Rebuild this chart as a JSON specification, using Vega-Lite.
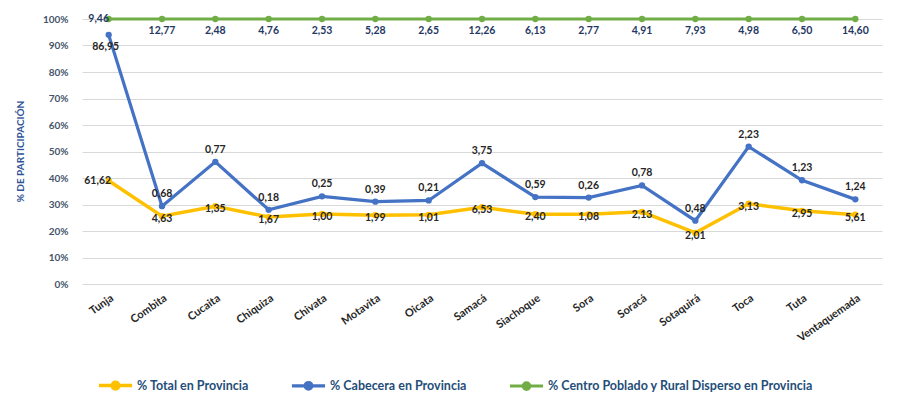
{
  "$schema": "https://vega.github.io/schema/vega-lite/v6.json",
  "width": 800,
  "height": 265,
  "autosize": {"type": "none"},
  "padding": {"left": 82, "top": 19, "right": 30, "bottom": 117},
  "background": "white",
  "config": {
    "locale": {"number": {"decimal": ",", "thousands": ".", "grouping": [3], "currency": ["$", ""]}},
    "view": {"stroke": null},
    "font": "Lato"
  },
  "data": {
    "values": [
      {"city": "Tunja", "series": "% Total en Provincia", "value": 61.62},
      {"city": "Tunja", "series": "% Cabecera en Provincia", "value": 86.95},
      {"city": "Tunja", "series": "% Centro Poblado y Rural Disperso en Provincia", "value": 9.46},
      {"city": "Combita", "series": "% Total en Provincia", "value": 4.63},
      {"city": "Combita", "series": "% Cabecera en Provincia", "value": 0.68},
      {"city": "Combita", "series": "% Centro Poblado y Rural Disperso en Provincia", "value": 12.77},
      {"city": "Cucaita", "series": "% Total en Provincia", "value": 1.35},
      {"city": "Cucaita", "series": "% Cabecera en Provincia", "value": 0.77},
      {"city": "Cucaita", "series": "% Centro Poblado y Rural Disperso en Provincia", "value": 2.48},
      {"city": "Chiquiza", "series": "% Total en Provincia", "value": 1.67},
      {"city": "Chiquiza", "series": "% Cabecera en Provincia", "value": 0.18},
      {"city": "Chiquiza", "series": "% Centro Poblado y Rural Disperso en Provincia", "value": 4.76},
      {"city": "Chivata", "series": "% Total en Provincia", "value": 1.00},
      {"city": "Chivata", "series": "% Cabecera en Provincia", "value": 0.25},
      {"city": "Chivata", "series": "% Centro Poblado y Rural Disperso en Provincia", "value": 2.53},
      {"city": "Motavita", "series": "% Total en Provincia", "value": 1.99},
      {"city": "Motavita", "series": "% Cabecera en Provincia", "value": 0.39},
      {"city": "Motavita", "series": "% Centro Poblado y Rural Disperso en Provincia", "value": 5.28},
      {"city": "Oicata", "series": "% Total en Provincia", "value": 1.01},
      {"city": "Oicata", "series": "% Cabecera en Provincia", "value": 0.21},
      {"city": "Oicata", "series": "% Centro Poblado y Rural Disperso en Provincia", "value": 2.65},
      {"city": "Samacá", "series": "% Total en Provincia", "value": 6.53},
      {"city": "Samacá", "series": "% Cabecera en Provincia", "value": 3.75},
      {"city": "Samacá", "series": "% Centro Poblado y Rural Disperso en Provincia", "value": 12.26},
      {"city": "Siachoque", "series": "% Total en Provincia", "value": 2.40},
      {"city": "Siachoque", "series": "% Cabecera en Provincia", "value": 0.59},
      {"city": "Siachoque", "series": "% Centro Poblado y Rural Disperso en Provincia", "value": 6.13},
      {"city": "Sora", "series": "% Total en Provincia", "value": 1.08},
      {"city": "Sora", "series": "% Cabecera en Provincia", "value": 0.26},
      {"city": "Sora", "series": "% Centro Poblado y Rural Disperso en Provincia", "value": 2.77},
      {"city": "Soracá", "series": "% Total en Provincia", "value": 2.13},
      {"city": "Soracá", "series": "% Cabecera en Provincia", "value": 0.78},
      {"city": "Soracá", "series": "% Centro Poblado y Rural Disperso en Provincia", "value": 4.91},
      {"city": "Sotaquirá", "series": "% Total en Provincia", "value": 2.01},
      {"city": "Sotaquirá", "series": "% Cabecera en Provincia", "value": 0.48},
      {"city": "Sotaquirá", "series": "% Centro Poblado y Rural Disperso en Provincia", "value": 7.93},
      {"city": "Toca", "series": "% Total en Provincia", "value": 3.13},
      {"city": "Toca", "series": "% Cabecera en Provincia", "value": 2.23},
      {"city": "Toca", "series": "% Centro Poblado y Rural Disperso en Provincia", "value": 4.98},
      {"city": "Tuta", "series": "% Total en Provincia", "value": 2.95},
      {"city": "Tuta", "series": "% Cabecera en Provincia", "value": 1.23},
      {"city": "Tuta", "series": "% Centro Poblado y Rural Disperso en Provincia", "value": 6.50},
      {"city": "Ventaquemada", "series": "% Total en Provincia", "value": 5.61},
      {"city": "Ventaquemada", "series": "% Cabecera en Provincia", "value": 1.24},
      {"city": "Ventaquemada", "series": "% Centro Poblado y Rural Disperso en Provincia", "value": 14.60}
    ]
  },
  "transform": [
    {"stack": "value", "groupby": ["city"], "offset": "normalize", "as": ["v0", "v1"]}
  ],
  "encoding": {
    "x": {
      "field": "city", "type": "nominal", "sort": null,
      "scale": {"type": "point", "padding": 0.5},
      "axis": {"title": null, "labelAngle": -35, "labelFontSize": 11, "labelFontWeight": "bold", "labelColor": "#262626", "domain": false, "ticks": false, "labelPadding": 8}
    },
    "y": {
      "field": "v1", "type": "quantitative",
      "scale": {"domain": [0, 1]},
      "axis": {
        "values": [0, 0.1, 0.2, 0.3, 0.4, 0.5, 0.6, 0.7, 0.8, 0.9, 1],
        "format": ".0%", "domain": false, "ticks": false, "gridColor": "#D9D9D9",
        "labelFontSize": 10, "labelColor": "#44546A", "labelPadding": 14, "labelFontWeight": "bold",
        "title": "% DE PARTICIPACIÓN", "titleColor": "#2F5597", "titleFontSize": 10, "titleFontWeight": "bold",
        "titleX": -62, "titleY": 132, "titleAngle": -90, "titleAlign": "center", "titleBaseline": "middle"
      }
    },
    "text": {"field": "value", "type": "quantitative", "format": ".2f"}
  },
  "layer": [
    {
      "mark": {"type": "line", "point": {"filled": true, "size": 40}},
      "encoding": {
        "text": null,
        "color": {
          "field": "series", "type": "nominal", "sort": null,
          "scale": {"domain": ["% Total en Provincia", "% Cabecera en Provincia", "% Centro Poblado y Rural Disperso en Provincia"], "range": ["#FFC000", "#4472C4", "#70AD47"]},
          "legend": {
            "orient": "none", "legendX": 15, "legendY": 348, "direction": "horizontal", "title": null,
            "symbolType": "M-1,0H1M0.2,0A0.2,0.2,0,1,1,-0.2,0A0.2,0.2,0,1,1,0.2,0",
            "symbolSize": 1100, "symbolStrokeWidth": 2.5, "labelLimit": 0,
            "labelFontSize": 12.5, "labelFontWeight": "bold", "labelColor": "#1F4E79", "columnPadding": 36, "labelOffset": 3,
            "encode": {"symbols": {"update": {"fill": {"scale": "color", "field": "value"}}}}
          }
        },
        "strokeWidth": {
          "field": "series", "type": "nominal",
          "scale": {"domain": ["% Total en Provincia", "% Cabecera en Provincia", "% Centro Poblado y Rural Disperso en Provincia"], "range": [3.5, 3, 2]},
          "legend": null
        }
      }
    },
    {
      "transform": [{"filter": "datum.series === '% Centro Poblado y Rural Disperso en Provincia' && datum.city !== 'Tunja'"}],
      "mark": {"type": "text", "dy": 12, "fontSize": 10.5, "fontWeight": "bold", "color": "#1F3864"}
    },
    {
      "transform": [{"filter": "datum.series === '% Centro Poblado y Rural Disperso en Provincia' && datum.city === 'Tunja'"}],
      "mark": {"type": "text", "dy": 0, "dx": -10, "fontSize": 10.5, "fontWeight": "bold", "color": "#1F3864"}
    },
    {
      "transform": [{"filter": "datum.series === '% Cabecera en Provincia' && datum.city !== 'Tunja'"}],
      "mark": {"type": "text", "dy": -12, "fontSize": 10.5, "fontWeight": "bold", "color": "#262626"}
    },
    {
      "transform": [{"filter": "datum.series === '% Cabecera en Provincia' && datum.city === 'Tunja'"}],
      "mark": {"type": "text", "dy": 12, "dx": -3, "fontSize": 10.5, "fontWeight": "bold", "color": "#262626"}
    },
    {
      "transform": [{"filter": "datum.series === '% Total en Provincia' && datum.city !== 'Tunja'"}],
      "mark": {"type": "text", "dy": 3, "fontSize": 10.5, "fontWeight": "bold", "color": "#262626"}
    },
    {
      "transform": [{"filter": "datum.series === '% Total en Provincia' && datum.city === 'Tunja'"}],
      "mark": {"type": "text", "dy": 0, "dx": -11, "fontSize": 10.5, "fontWeight": "bold", "color": "#262626"}
    }
  ]
}
